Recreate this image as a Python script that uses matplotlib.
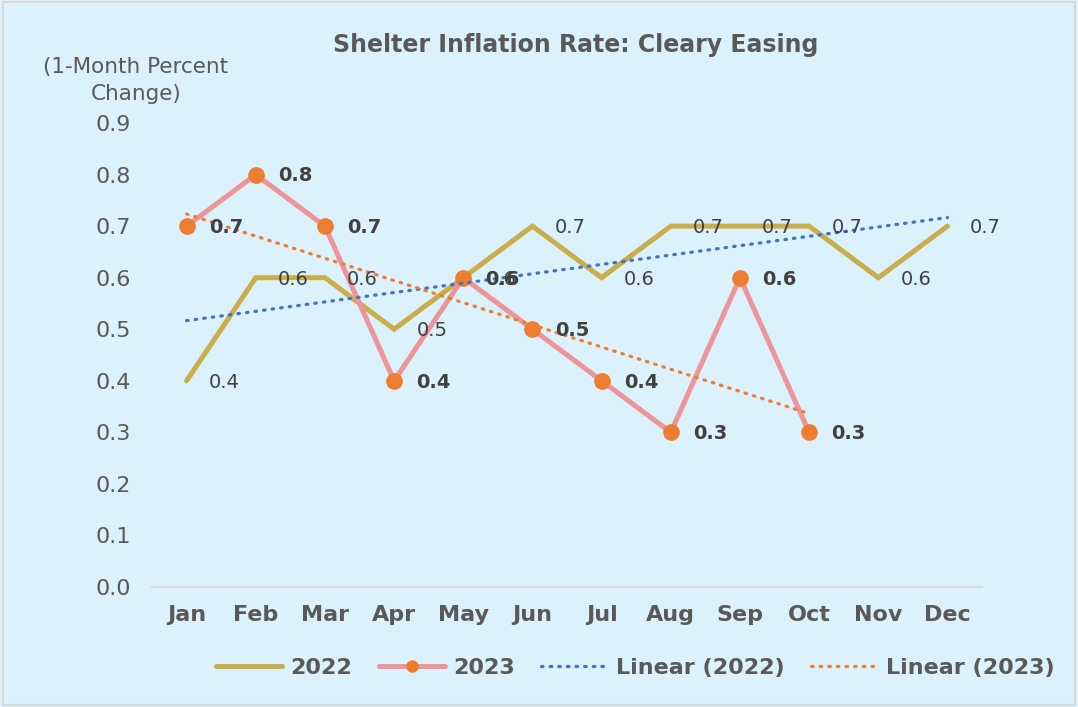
"""Shelter inflation rate: 2022 vs 2023 with linear trendlines."""

import matplotlib.pyplot as plt
import numpy as np
from matplotlib.patches import Rectangle

months = ['Jan', 'Feb', 'Mar', 'Apr', 'May', 'Jun',
          'Jul', 'Aug', 'Sep', 'Oct', 'Nov', 'Dec']
vals_2022 = [0.4, 0.6, 0.6, 0.5, 0.6, 0.7, 0.6, 0.7, 0.7, 0.7, 0.6, 0.7]
vals_2023 = [0.7, 0.8, 0.7, 0.4, 0.6, 0.5, 0.4, 0.3, 0.6, 0.3]
yticks = [0.0, 0.1, 0.2, 0.3, 0.4, 0.5, 0.6, 0.7, 0.8, 0.9]

bg = '#DBF1FB'
gray = '#595959'
label_c = '#404040'
c2022 = '#C9AE4B'
c2023 = '#EE959A'
c_marker = '#ED7D31'
c_blue = '#4472C4'

plt.rcParams['font.family'] = 'DejaVu Sans'

fig = plt.figure(figsize=(10.78, 7.07), dpi=100, facecolor=bg)
ax = fig.add_axes([0.141, 0.1697, 0.770, 0.6563])
ax.set_facecolor(bg)

x22 = np.arange(len(vals_2022))
x23 = np.arange(len(vals_2023))

ax.plot(x22, vals_2022, color=c2022, lw=3.6, solid_joinstyle='miter',
        solid_capstyle='round', label='2022', zorder=3)
ax.plot(x23, vals_2023, color=c2023, lw=3.6, marker='o', ms=11,
        mfc=c_marker, mec=c_marker, solid_capstyle='round',
        label='2023', zorder=4)

# linear trendlines
p22 = np.polyfit(x22, vals_2022, 1)
p23 = np.polyfit(x23, vals_2023, 1)
dots = (0, (0.5, 2.2))
ax.plot(x22, np.polyval(p22, x22), color=c_blue, lw=2.3, linestyle=dots,
        dash_capstyle='round', label='Linear (2022)', zorder=5)
ax.plot(x23, np.polyval(p23, x23), color=c_marker, lw=2.3, linestyle=dots,
        dash_capstyle='round', label='Linear (2023)', zorder=5)

# data labels
for x, v in zip(x22, vals_2022):
    ax.annotate(f'{v:.1f}', (x, v), xytext=(16, -1), textcoords='offset points',
                ha='left', va='center', fontsize=14, color=label_c, zorder=6)
for x, v in zip(x23, vals_2023):
    ax.annotate(f'{v:.1f}', (x, v), xytext=(16, -1), textcoords='offset points',
                ha='left', va='center', fontsize=14, color=label_c,
                fontweight='bold', zorder=6)

ax.set_xlim(-0.5, len(months) - 0.5)
ax.set_ylim(0, 0.9)
ax.set_xticks(x22)
ax.set_xticklabels(months, fontsize=16, fontweight='bold', color=gray)
ax.set_yticks(yticks)
ax.set_yticklabels([f'{t:.1f}' for t in yticks], fontsize=16, color=gray)
ax.tick_params(axis='both', length=0)
ax.tick_params(axis='x', pad=13)
ax.tick_params(axis='y', pad=15)

for s in ['top', 'right', 'left']:
    ax.spines[s].set_visible(False)
ax.spines['bottom'].set_color('#D9D9D9')
ax.spines['bottom'].set_linewidth(1.5)

fig.text(0.534, 0.937, 'Shelter Inflation Rate: Cleary Easing', ha='center',
         va='center', fontsize=17, fontweight='bold', color=gray)
fig.text(0.126, 0.886, '(1-Month Percent\nChange)', ha='center', va='center',
         fontsize=15.5, color=gray, linespacing=1.4)

leg = fig.legend(loc='center', bbox_to_anchor=(0.589, 0.055), ncol=4,
                 frameon=False, fontsize=16, handlelength=3.0,
                 columnspacing=1.2, handletextpad=0.35)
for t in leg.get_texts():
    t.set_color(gray)
    t.set_fontweight('bold')
leg.legend_handles[1].set_markersize(8)

fig.patches.append(Rectangle((0.003, 0.003), 0.994, 0.994, transform=fig.transFigure,
                             fill=False, edgecolor='#D9D9D9', lw=1.5))

fig.savefig('out.png', dpi=100, facecolor=bg)
